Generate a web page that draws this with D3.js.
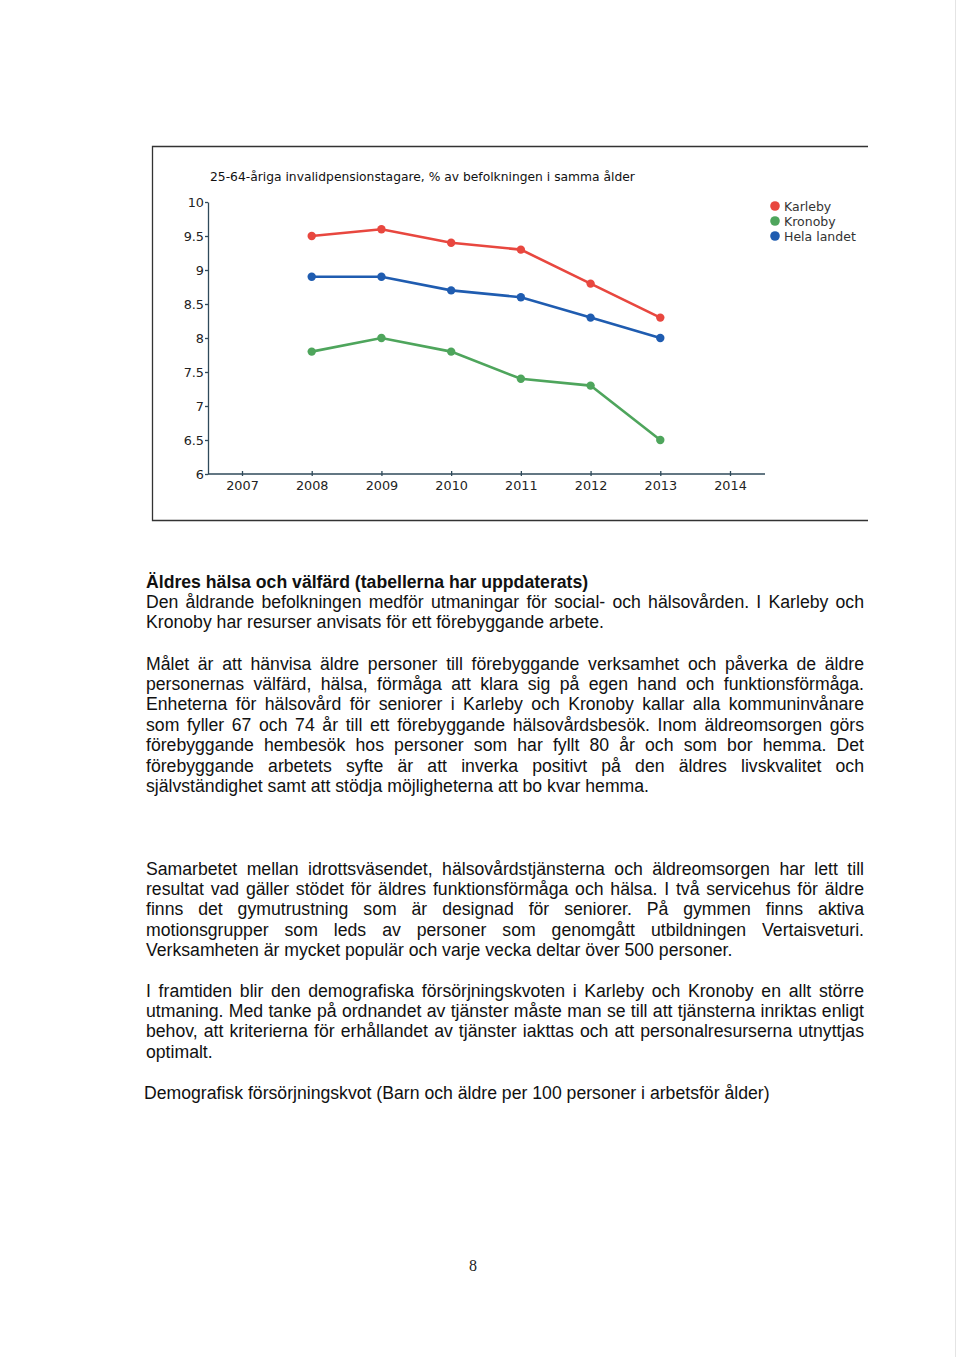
<!DOCTYPE html>
<html>
<head>
<meta charset="utf-8">
<script src="https://cdn.jsdelivr.net/npm/d3@7"></script>
<style>
  body { margin: 0; background: #fff; width: 960px; height: 1357px; position: relative; overflow: hidden; }
  .txt { position: absolute; left: 146px; width: 718px; font-family: "Liberation Sans", Arial, sans-serif;
         font-size: 17.65px; line-height: 20.4px; color: #111; margin: 0; }
  .txt div { white-space: nowrap; }
  .txt .j { text-align: justify; text-align-last: justify; }
  .txt .b { font-weight: bold; }
  #pageno { position: absolute; left: 469px; top: 1257px; font-family: "Liberation Serif", serif; font-size: 16px; color: #222; }
  #edge { position: absolute; left: 955px; top: 0; width: 1px; height: 1357px; background: #e4e4e4; }
</style>
</head>
<body>
<div id="edge"></div>
<svg id="chart" width="960" height="540" style="position:absolute;left:0;top:0"></svg>

<div class="txt" style="top:571.5px">
  <div class="b">Äldres hälsa och välfärd (tabellerna har uppdaterats)</div>
  <div class="j">Den åldrande befolkningen medför utmaningar för social- och hälsovården. I Karleby och</div>
  <div>Kronoby har resurser anvisats för ett förebyggande arbete.</div>
</div>

<div class="txt" style="top:653.5px">
  <div class="j">Målet är att hänvisa äldre personer till förebyggande verksamhet och påverka de äldre</div>
  <div class="j">personernas välfärd, hälsa, förmåga att klara sig på egen hand och funktionsförmåga.</div>
  <div class="j">Enheterna för hälsovård för seniorer i Karleby och Kronoby kallar alla kommuninvånare</div>
  <div class="j">som fyller 67 och 74 år till ett förebyggande hälsovårdsbesök. Inom äldreomsorgen görs</div>
  <div class="j">förebyggande hembesök hos personer som har fyllt 80 år och som bor hemma. Det</div>
  <div class="j">förebyggande arbetets syfte är att inverka positivt på den äldres livskvalitet och</div>
  <div>självständighet samt att stödja möjligheterna att bo kvar hemma.</div>
</div>

<div class="txt" style="top:858.5px">
  <div class="j">Samarbetet mellan idrottsväsendet, hälsovårdstjänsterna och äldreomsorgen har lett till</div>
  <div class="j">resultat vad gäller stödet för äldres funktionsförmåga och hälsa. I två servicehus för äldre</div>
  <div class="j">finns det gymutrustning som är designad för seniorer. På gymmen finns aktiva</div>
  <div class="j">motionsgrupper som leds av personer som genomgått utbildningen Vertaisveturi.</div>
  <div>Verksamheten är mycket populär och varje vecka deltar över 500 personer.</div>
</div>

<div class="txt" style="top:980.5px">
  <div class="j">I framtiden blir den demografiska försörjningskvoten i Karleby och Kronoby en allt större</div>
  <div class="j">utmaning. Med tanke på ordnandet av tjänster måste man se till att tjänsterna inriktas enligt</div>
  <div class="j">behov, att kriterierna för erhållandet av tjänster iakttas och att personalresurserna utnyttjas</div>
  <div>optimalt.</div>
</div>

<div class="txt" style="top:1082.5px; left:144px">
  <div>Demografisk försörjningskvot (Barn och äldre per 100 personer i arbetsför ålder)</div>
</div>

<div id="pageno">8</div>

<script>
// Data
var years = [2008, 2009, 2010, 2011, 2012, 2013];
var karleby = [9.5, 9.6, 9.4, 9.3, 8.8, 8.3];
var kronoby = [7.8, 8.0, 7.8, 7.4, 7.3, 6.5];
var helaLandet = [8.9, 8.9, 8.7, 8.6, 8.3, 8.0];
var xTicks = [2007, 2008, 2009, 2010, 2011, 2012, 2013, 2014];
var yTicks = [6, 6.5, 7, 7.5, 8, 8.5, 9, 9.5, 10];
var seriesNames = ["Karleby", "Kronoby", "Hela landet"];
var seriesColors = ["#e8473f", "#4ea55c", "#1f5cb0"];

var title = "25-64-åriga invalidpensionstagare, % av befolkningen i samma ålder";

function drawChart() {
    var svg = d3.select("#chart");
    var font = "'DejaVu Sans', Verdana, sans-serif";
    var axisColor = "#2f4a5a";

    // frame (open on the right)
    svg.append("path")
        .attr("d", "M868,146.5H152.5V520.5H868")
        .attr("fill", "none")
        .attr("stroke", "#333")
        .attr("stroke-width", 1.3);

    var x = d3.scaleLinear().domain([2007, 2014]).range([242, 730]);
    var y = d3.scaleLinear().domain([6, 10]).range([474, 202]);

    svg.append("text")
        .attr("x", 210)
        .attr("y", 181)
        .style("font-family", font)
        .style("font-size", "12.3px")
        .attr("fill", "#111")
        .text(title);

    // y axis
    var yAxis = svg.append("g")
        .attr("transform", "translate(208,0)")
        .call(d3.axisLeft(y).tickValues(yTicks).tickSize(3).tickSizeOuter(0).tickPadding(1)
            .tickFormat(d3.format("")));
    yAxis.selectAll("text").style("font-family", font).style("font-size", "12.8px").attr("fill", "#222");
    yAxis.selectAll("line, path").attr("stroke", axisColor).attr("stroke-width", 1.3);

    // x axis
    var xAxis = svg.append("g")
        .attr("transform", "translate(0,474)")
        .call(d3.axisBottom(x).tickValues(xTicks).tickSize(-3).tickPadding(7).tickFormat(d3.format("d")));
    xAxis.select(".domain").remove();
    xAxis.selectAll("text").style("font-family", font).style("font-size", "12.8px").attr("fill", "#222");
    xAxis.selectAll("line").attr("stroke", axisColor).attr("stroke-width", 1.3).attr("y2", -3).attr("y1", 2);
    svg.append("line")
        .attr("x1", 208).attr("x2", 765)
        .attr("y1", 474).attr("y2", 474)
        .attr("stroke", axisColor)
        .attr("stroke-width", 1.3);

    var series = [karleby, kronoby, helaLandet];
    var line = d3.line()
        .x(function (d, i) { return x(years[i]); })
        .y(function (d) { return y(d); });

    series.forEach(function (values, s) {
        svg.append("path")
            .datum(values)
            .attr("d", line)
            .attr("fill", "none")
            .attr("stroke", seriesColors[s])
            .attr("stroke-width", 2.6);
        svg.selectAll(".dot" + s)
            .data(values)
            .enter()
            .append("circle")
            .attr("cx", function (d, i) { return x(years[i]); })
            .attr("cy", function (d) { return y(d); })
            .attr("r", 4.2)
            .attr("fill", seriesColors[s]);
    });

    // legend
    var legend = svg.append("g").attr("transform", "translate(775,206)");
    seriesNames.forEach(function (name, i) {
        legend.append("circle")
            .attr("cx", 0).attr("cy", i * 15)
            .attr("r", 4.8)
            .attr("fill", seriesColors[i]);
        legend.append("text")
            .attr("x", 9).attr("y", i * 15 + 4.5)
            .style("font-family", font)
            .style("font-size", "12.5px")
            .attr("fill", "#333")
            .text(name);
    });
}

drawChart();
</script>
</body>
</html>
